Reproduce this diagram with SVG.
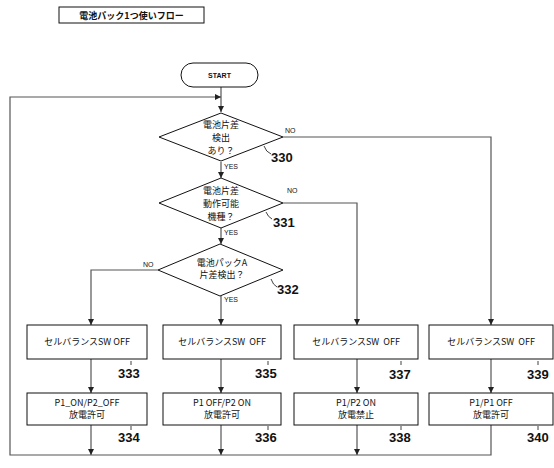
<svg xmlns="http://www.w3.org/2000/svg" width="554" height="468" viewBox="0 0 554 468">
<defs>
<marker id="ah" viewBox="0 0 10 10" refX="10" refY="5" markerWidth="5" markerHeight="5" orient="auto"><path d="M0,0 L10,5 L0,10 z" fill="#222"/></marker>
<style>
.box{fill:#fff;stroke:#111;stroke-width:1}
.c{fill:none;stroke:#555;stroke-width:1.2}
.t{font-family:"Noto Sans CJK JP","Liberation Sans",sans-serif;font-size:9px;fill:#111;text-anchor:middle}
.s{font-family:"Liberation Sans",sans-serif;font-size:7px;fill:#111}
.n{font-family:"Liberation Sans",sans-serif;font-size:13px;font-weight:bold;fill:#111}
.ld{fill:none;stroke:#111;stroke-width:0.8}
</style>
</defs>
<rect width="554" height="468" fill="#fff"/>
<g id="title"><rect class="box" x="59" y="7" width="145" height="16" stroke-width="1.5"/><text class="t" x="131.5" y="18.5" font-weight="bold" font-size="10">電池パック1つ使いフロー</text></g>
<g id="connectors">
<line class="c" x1="221" y1="87" x2="221" y2="112" marker-end="url(#ah)"/>
<polyline class="c" points="221,162 221,178" marker-end="url(#ah)"/>
<polyline class="c" points="221,228 221,244" marker-end="url(#ah)"/>
<polyline class="c" points="283,137 491,137 491,325" marker-end="url(#ah)"/>
<polyline class="c" points="283,203 357,203 357,325" marker-end="url(#ah)"/>
<polyline class="c" points="158,270 91,270 91,325" marker-end="url(#ah)"/>
<polyline class="c" points="221,296 221,325" marker-end="url(#ah)"/>
<line class="c" x1="91" y1="359" x2="91" y2="393" marker-end="url(#ah)"/>
<line class="c" x1="221" y1="359" x2="221" y2="393" marker-end="url(#ah)"/>
<line class="c" x1="357" y1="359" x2="357" y2="393" marker-end="url(#ah)"/>
<line class="c" x1="491" y1="359" x2="491" y2="393" marker-end="url(#ah)"/>
<line class="c" x1="91" y1="425" x2="91" y2="455" marker-end="url(#ah)"/>
<line class="c" x1="221" y1="425" x2="221" y2="455" marker-end="url(#ah)"/>
<line class="c" x1="357" y1="425" x2="357" y2="455" marker-end="url(#ah)"/>
<polyline class="c" points="491,425 491,455 10,455 10,97 221,97" marker-end="url(#ah)"/>
<text class="s" x="285" y="133">NO</text>
<text class="s" x="224" y="169">YES</text>
<text class="s" x="287" y="193">NO</text>
<text class="s" x="224" y="235">YES</text>
<text class="s" x="143" y="267">NO</text>
<text class="s" x="224" y="302">YES</text>
</g>
<g id="start"><rect class="box" x="181" y="63" width="77" height="24" rx="12"/><text class="s" x="219.5" y="78" text-anchor="middle" font-weight="bold">START</text></g>
<g id="d330"><polygon class="box" points="221,113 283,137 221,161 159,137"/>
<text class="t" x="221" y="128">電池片差</text><text class="t" x="221" y="141">検出</text><text class="t" x="221" y="154">あり？</text>
<path class="ld" d="M264,146 Q266,152 271,154"/><text class="n" x="271" y="162">330</text></g>
<g id="d331"><polygon class="box" points="221,178 283,203 221,228 159,203"/>
<text class="t" x="221" y="194">電池片差</text><text class="t" x="221" y="207">動作可能</text><text class="t" x="221" y="220">機種？</text>
<path class="ld" d="M266,212 Q268,217 272,219"/><text class="n" x="273" y="227">331</text></g>
<g id="d332"><polygon class="box" points="220,244 283,270 220,296 158,270"/>
<text class="t" x="222" y="266">電池パックA</text><text class="t" x="222" y="278">片差検出？</text>
<path class="ld" d="M271,279 Q273,285 277,287"/><text class="n" x="277" y="294">332</text></g>
<g id="b333"><rect class="box" x="27" y="325" width="120" height="34"/><text class="t" x="87" y="345">セルバランスSW OFF</text><line class="ld" x1="131" y1="361" x2="131" y2="365"/><text class="n" x="118" y="378">333</text></g>
<g id="b335"><rect class="box" x="163" y="325" width="118" height="34"/><text class="t" x="222" y="345">セルバランスSW&#160; OFF</text><line class="ld" x1="268" y1="361" x2="268" y2="365"/><text class="n" x="255" y="378">335</text></g>
<g id="b337"><rect class="box" x="294" y="325" width="124" height="34"/><text class="t" x="356" y="345">セルバランスSW&#160; OFF</text><line class="ld" x1="401" y1="361" x2="401" y2="365"/><text class="n" x="389" y="379">337</text></g>
<g id="b339"><rect class="box" x="429" y="325" width="124" height="34"/><text class="t" x="491" y="345">セルバランスSW&#160; OFF</text><line class="ld" x1="538" y1="361" x2="538" y2="365"/><text class="n" x="527" y="379">339</text></g>
<g id="b334"><rect class="box" x="27" y="393" width="120" height="32"/><text class="t" x="87" y="406" font-size="8">P1_ON/P2_OFF</text><text class="t" x="87" y="418">放電許可</text><line class="ld" x1="131" y1="426" x2="131" y2="430"/><text class="n" x="118" y="442">334</text></g>
<g id="b336"><rect class="box" x="163" y="393" width="118" height="32"/><text class="t" x="222" y="406" font-size="8">P1 OFF/P2 ON</text><text class="t" x="222" y="418">放電許可</text><line class="ld" x1="268" y1="426" x2="268" y2="430"/><text class="n" x="255" y="442">336</text></g>
<g id="b338"><rect class="box" x="294" y="393" width="124" height="32"/><text class="t" x="356" y="406" font-size="8">P1/P2 ON</text><text class="t" x="356" y="418">放電禁止</text><line class="ld" x1="401" y1="426" x2="401" y2="430"/><text class="n" x="389" y="442">338</text></g>
<g id="b340"><rect class="box" x="429" y="393" width="124" height="32"/><text class="t" x="491" y="406" font-size="8">P1/P1 OFF</text><text class="t" x="491" y="418">放電許可</text><line class="ld" x1="538" y1="426" x2="538" y2="430"/><text class="n" x="527" y="442">340</text></g>
</svg>
